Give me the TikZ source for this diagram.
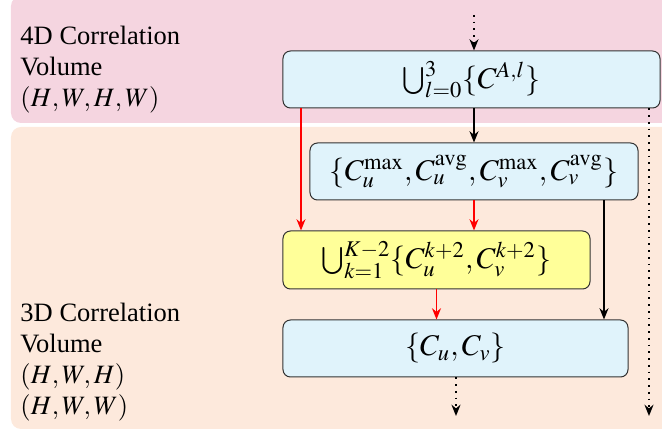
\documentclass[tikz,border=0pt]{standalone}
\usepackage{mathptmx}
\usepackage{fontspec}
\setmainfont{Liberation Serif}
\usetikzlibrary{positioning, arrows.meta, calc}
\definecolor{bgfour}{HTML}{F5D5E0}
\definecolor{bgthree}{HTML}{FDE9DC}
\definecolor{boxblue}{HTML}{E0F3FB}
\definecolor{boxyellow}{HTML}{FFFF99}

\begin{document}
\begin{tikzpicture}[x=0.4pt, y=-0.4pt, font=\fontsize{10.6}{12.4}\selectfont,
    blockbox/.style={draw=black!80, rounded corners=3pt, fill=boxblue, inner sep=0pt, minimum height=22.8pt, font=\fontsize{12}{14}\selectfont},
    sidelabel/.style={anchor=base west, align=left, inner sep=0pt},
    flowarrow/.style={-{Stealth[length=4.5pt, width=3.6pt]}, line width=0.7pt},
    dotarrow/.style={flowarrow, dotted}]
    \useasboundingbox (0,0) rectangle (662,432);

    % background bands
    \fill[bgfour, rounded corners=4pt] (11,-4) rectangle (672,123);
    \fill[bgthree, rounded corners=4pt] (11,127) rectangle (672,429);

    \node[sidelabel] (vol4) at (20,107) {4D Correlation\\Volume\\$(H,W,H,W)$};
    \node[sidelabel] (vol3) at (20,415) {3D Correlation\\Volume\\$(H,W,H)$\\$(H,W,W)$};

    % blocks
    \node[blockbox, minimum width=150.8pt] (corr) at (471.5,79.5) {$\bigcup_{l=0}^{3}\{C^{A,l}\}$};
    \node[blockbox, minimum width=131.2pt] (pool) at (474,171.5) {$\{C_u^{\max}, C_u^{\mathrm{avg}}, C_v^{\max}, C_v^{\mathrm{avg}}\}$};
    \node[blockbox, fill=boxyellow, minimum width=122.8pt, minimum height=23.2pt] (multi) at (436.5,260) {$\bigcup_{k=1}^{K-2}\{C_u^{k+2}, C_v^{k+2}\}$};
    \node[blockbox, minimum width=138pt] (out) at (455.5,348.5) {$\{C_u, C_v\}$};

    \coordinate (top) at (474,15);
    \coordinate (redx) at (301,0);
    \coordinate (skipx) at (604,0);
    \coordinate (endl) at (456,416);
    \coordinate (endr) at (649,416);

    % connectors
    \draw[dotarrow] (top) -- (corr.north -| top);
    \draw[flowarrow] (corr.south -| top) -- (pool.north -| top);
    \draw[flowarrow, red] (corr.south -| redx) -- (multi.north -| redx);
    \draw[flowarrow, red] (pool.south -| top) -- (multi.north -| top);
    \draw[flowarrow] (pool.south -| skipx) -- (out.north -| skipx);
    \draw[flowarrow, red] (multi.south) -- (out.north -| multi.south);
    \draw[dotarrow] (out.south -| endl) -- (endl);
    \draw[dotarrow] (corr.south -| endr) -- (endr);
\end{tikzpicture}
\end{document}
